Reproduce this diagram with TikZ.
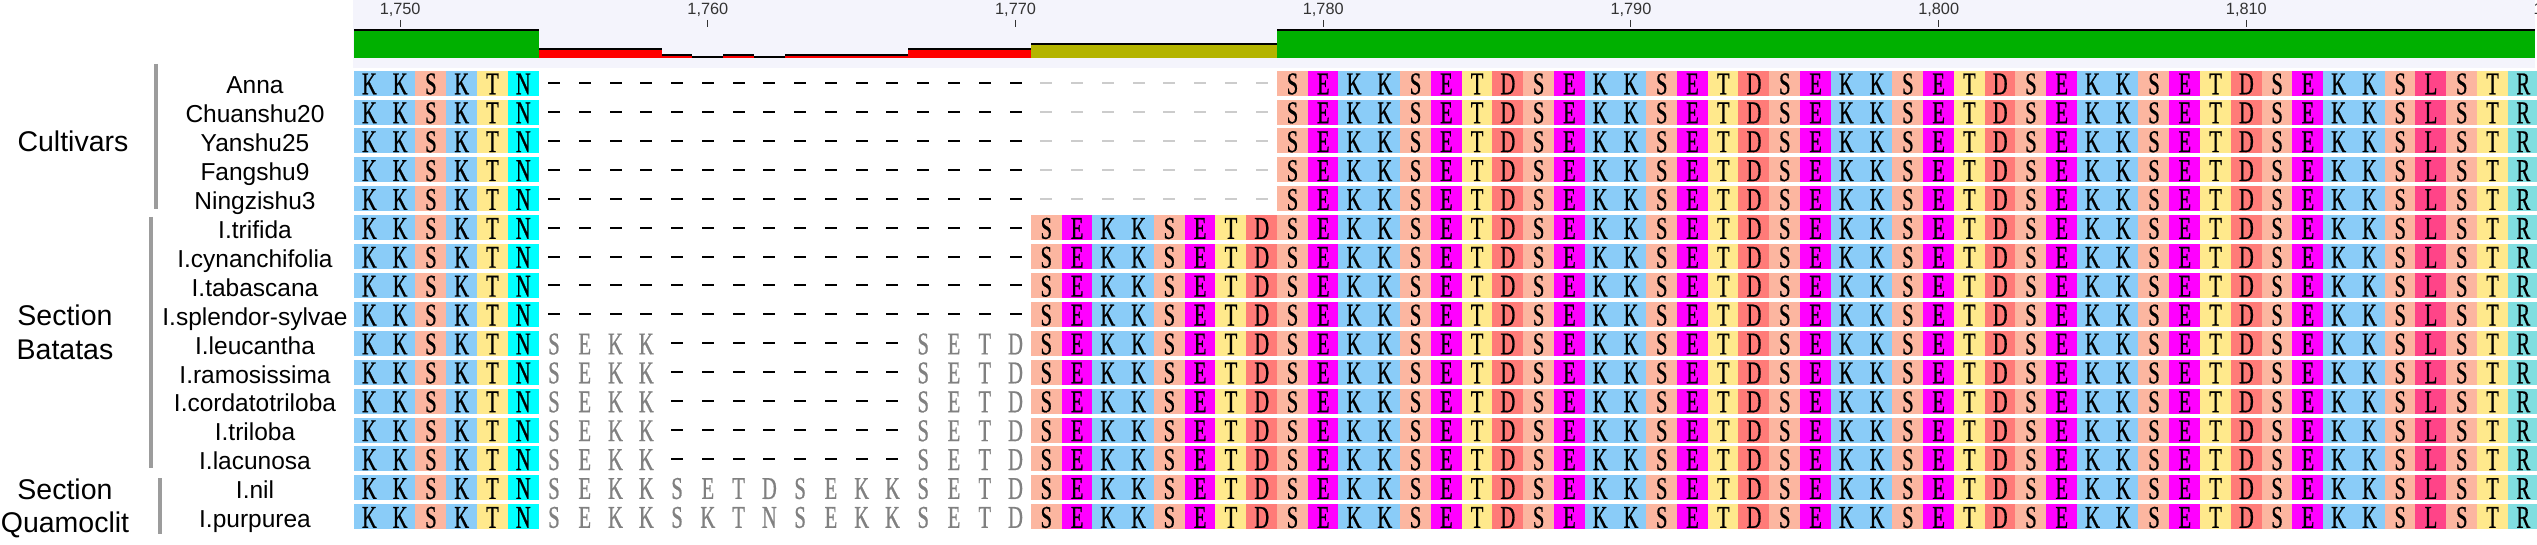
\documentclass[tikz,border=0pt]{standalone}
\usepackage{fontspec}
\setmainfont{Liberation Sans}
\newfontfamily\resfont[FakeStretch=0.65,FakeBold=0.6]{Liberation Serif}
\definecolor{resK}{HTML}{8ACCF8}
\definecolor{resS}{HTML}{FCB6A0}
\definecolor{resT}{HTML}{FFE98C}
\definecolor{resN}{HTML}{00FFFF}
\definecolor{resE}{HTML}{FF00FF}
\definecolor{resD}{HTML}{FF7B78}
\definecolor{resL}{HTML}{FF4488}
\definecolor{resR}{HTML}{80DEE0}
\definecolor{gapgray}{HTML}{808080}
\definecolor{faintgray}{HTML}{CCCCCC}
\definecolor{hdr}{HTML}{F4F4FC}
\definecolor{okgreen}{HTML}{00B000}
\definecolor{lowred}{HTML}{FF0000}
\definecolor{midyellow}{HTML}{B4B400}
\definecolor{bracket}{HTML}{9C9C9C}
\definecolor{rulertext}{HTML}{333333}
\tikzset{
  cell/.style={minimum width=15.6pt,minimum height=12.5pt,inner sep=0pt,outer sep=0pt,
    text height=11.1pt,text depth=0pt,font=\resfont\fontsize{15.85pt}{16pt}\selectfont},
  res/.style={cell,fill=res#1},
  faded/.style={cell,text=gapgray},
  gap/.style={fill=black,minimum width=6pt,minimum height=1pt,inner sep=0pt,outer sep=0pt},
  faintgap/.style={gap,fill=faintgray},
  taxon/.style={anchor=base,inner sep=0pt,font=\fontsize{12.25pt}{14pt}\selectfont},
  group/.style={anchor=base,inner sep=0pt,font=\fontsize{14.25pt}{16pt}\selectfont},
  ruler/.style={anchor=base,inner sep=0pt,text=rulertext,font=\fontsize{8.15pt}{9pt}\selectfont},
  grpline/.style={draw=bracket,line width=1.75pt}
}
\begin{document}
\begin{tikzpicture}[x=0.5pt,y=-0.5pt]
  \useasboundingbox (0,0) rectangle (2537,545);
  \fill[white] (0,0) rectangle (2537,545);
  \fill[hdr] (353,0) rectangle (2535,68);

  % consensus identity bar and ruler
  \begin{scope}[shift={(354,0)},x=15.385pt]
    \foreach \a/\b/\t/\col in {0/6/29.3/okgreen,6/10/48.3/lowred,10/11/54/lowred,11/12/56/lowred,
        12/13/54/lowred,13/14/56/lowred,14/18/54/lowred,18/22/48.3/lowred,22/30/42.7/midyellow,30/70.88/29.3/okgreen}{
      \fill[\col] (\a,\t) rectangle (\b,57.7);
      \fill[black] (\a,\t) rectangle (\b,\t+2);
    }
    \foreach \c/\lab in {1/{1,750},11/{1,760},21/{1,770},31/{1,780},41/{1,790},51/{1,800},61/{1,810},71/{1,820}}{
      \node[ruler] (t\c) at (\c+.5,15) {\lab};
      \draw[rulertext,line width=.5pt] (\c+.5,20) -- (\c+.5,27);
    }
  \end{scope}

  % alignment
  \begin{scope}[shift={(354,83.2)},x=15.385pt,y=-14.45pt]
    \foreach \i in {0,...,15}{
      \foreach \a [count=\c from 0] in {K,K,S,K,T,N}
        \node[res=\a] (c\i-\c) at (\c+.5,\i) {\a};
      \foreach \a [count=\c from 30] in {S,E,K,K,S,E,T,D,S,E,K,K,S,E,T,D,S,E,K,K,S,E,T,D,
          S,E,K,K,S,E,T,D,S,E,K,K,S,L,S,T,R}
        \node[res=\a] (c\i-\c) at (\c+.5,\i) {\a};
    }
    % cultivars
    \foreach \i in {0,...,4}{
      \foreach \c in {6,...,21} \node[gap] (c\i-\c) at (\c+.5,\i) {};
      \foreach \c in {22,...,29} \node[faintgap] (c\i-\c) at (\c+.5,\i) {};
    }
    % wild species
    \foreach \i in {5,...,15}
      \foreach \a [count=\c from 22] in {S,E,K,K,S,E,T,D}
        \node[res=\a] (c\i-\c) at (\c+.5,\i) {\a};
    \foreach \i in {5,...,8}
      \foreach \c in {6,...,21} \node[gap] (c\i-\c) at (\c+.5,\i) {};
    \foreach \i in {9,...,13}{
      \foreach \a [count=\c from 6] in {S,E,K,K}
        \node[faded] (c\i-\c) at (\c+.5,\i) {\a};
      \foreach \c in {10,...,17} \node[gap] (c\i-\c) at (\c+.5,\i) {};
      \foreach \a [count=\c from 18] in {S,E,T,D}
        \node[faded] (c\i-\c) at (\c+.5,\i) {\a};
    }
    \foreach \a [count=\c from 6] in {S,E,K,K,S,E,T,D,S,E,K,K,S,E,T,D}
      \node[faded] (c14-\c) at (\c+.5,14) {\a};
    \foreach \a [count=\c from 6] in {S,E,K,K,S,K,T,N,S,E,K,K,S,E,T,D}
      \node[faded] (c15-\c) at (\c+.5,15) {\a};
  \end{scope}

  % taxa
  \foreach \n [count=\i from 0] in {Anna,Chuanshu20,Yanshu25,Fangshu9,Ningzishu3,I.trifida,
      I.cynanchifolia,I.tabascana,I.splendor-sylvae,I.leucantha,I.ramosissima,
      I.cordatotriloba,I.triloba,I.lacunosa,I.nil,I.purpurea}
    \node[taxon] (n\i) at (255,{94+28.9*\i}) {\n};

  % groups
  \node[group] (cult) at (73,152) {Cultivars};
  \node[group] (bat1) at (65,325) {Section};
  \node[group] (bat2) at (65,359) {Batatas};
  \node[group] (qua1) at (65,499) {Section};
  \node[group] (qua2) at (65,532) {Quamoclit};
  \draw[grpline] (156,64) -- (156,209);
  \draw[grpline] (151,217) -- (151,468);
  \draw[grpline] (160,478) -- (160,534);
\end{tikzpicture}
\end{document}
